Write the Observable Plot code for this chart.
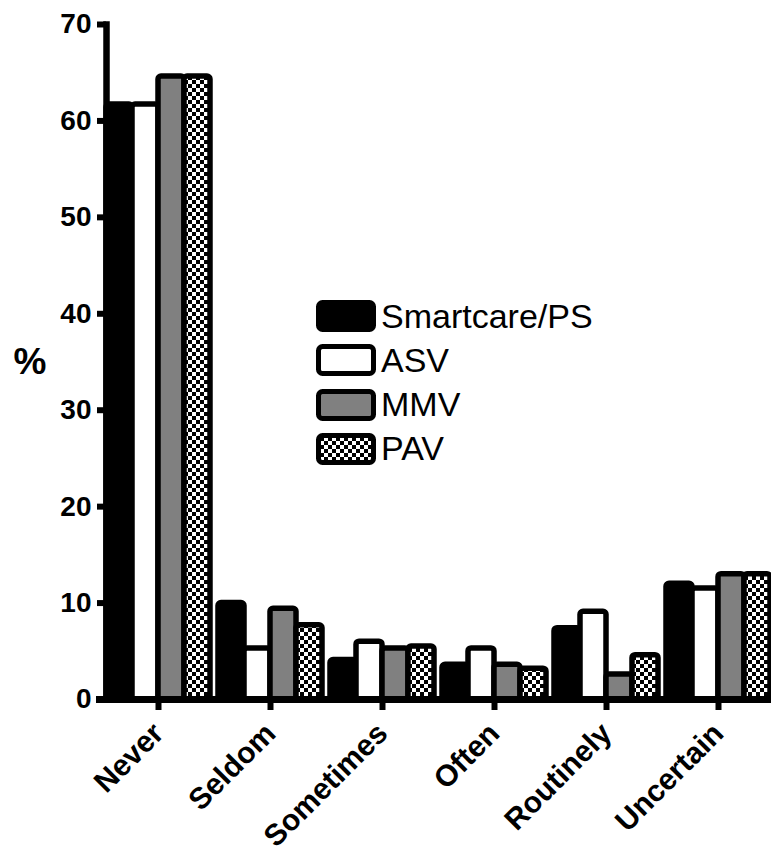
<!DOCTYPE html>
<html><head><meta charset="utf-8">
<script src="https://cdn.jsdelivr.net/npm/d3@7"></script>
<script src="https://cdn.jsdelivr.net/npm/@observablehq/plot@0.6"></script>
<style>
body{margin:0;background:#fff;}
#wrap{position:relative;width:771px;height:853px;}
#legend{position:absolute;left:316px;top:300px;font-family:"Liberation Sans",Arial,sans-serif;font-size:34px;color:#000;}
.row{display:flex;align-items:center;height:32px;margin-bottom:12.3px;}
.row svg{display:block;margin-right:5px;}
</style></head><body>
<svg width="0" height="0" style="position:absolute">
<defs><pattern id="checker" width="8" height="8" patternUnits="userSpaceOnUse">
<rect width="8" height="8" fill="#fff"/><rect width="4" height="4" fill="#000"/><rect x="4" y="4" width="4" height="4" fill="#000"/></pattern></defs></svg>
<div id="wrap"><div id="legend"></div></div>
<script>
const categories = ["Never","Seldom","Sometimes","Often","Routinely","Uncertain"];
const series = ["Smartcare/PS","ASV","MMV","PAV"];
const smartcare = [61.7, 10.0, 4.1, 3.6, 7.4, 12.0];
const asv       = [61.7, 5.3, 6.0, 5.3, 9.1, 11.5];
const mmv       = [64.6, 9.4, 5.3, 3.6, 2.6, 13.0];
const pav       = [64.6, 7.7, 5.5, 3.2, 4.6, 13.0];
const yTicks = [0,10,20,30,40,50,60,70];
const fills = ["#000","#fff","#808080","url(#checker)"];

const values = [smartcare, asv, mmv, pav];
const data = categories.flatMap((c,i)=>series.map((s,j)=>({category:c, series:s, value:values[j][i]})));

const plot = Plot.plot({
  width:771, height:853, marginLeft:106, marginRight:0, marginTop:24, marginBottom:154,
  style:{fontFamily:"'Liberation Sans', Arial, sans-serif", background:"white", color:"black"},
  fx:{domain:categories, paddingInner:0.07, paddingOuter:0, label:null},
  x:{domain:series, padding:0, axis:null},
  y:{domain:[0,70], label:null},
  marks:[
    ...series.map((s,j)=>Plot.barY(data.filter(d=>d.series===s),{fx:"category", x:"series", y:"value", fill:fills[j], stroke:"#000", strokeWidth:5.5, rx:3})),
    Plot.ruleY([0],{stroke:"#000", strokeWidth:7, insetLeft:-10, insetRight:-6}),
    Plot.frame({anchor:"left", facetAnchor:"left", stroke:"#000", strokeWidth:6.5}),
    Plot.axisY({ticks:yTicks, tickSize:9, strokeWidth:6, fontSize:28, fontWeight:"bold", tickPadding:6, label:null}),
    Plot.axisFx({anchor:"bottom", ticks:categories, tickSize:11, strokeWidth:6, fontSize:30, fontWeight:"bold", tickRotate:-45, tickPadding:18, label:null}),
    Plot.text(["%"], {text:d=>d, frameAnchor:"left", dx:-93, fontSize:37, fontWeight:"bold", facetAnchor:"left"})
  ]
});
document.getElementById("wrap").prepend(plot);

const legend = document.getElementById("legend");
series.forEach((s,j)=>{
  const row = document.createElement("div");
  row.className = "row";
  row.innerHTML = `<svg width="60" height="32"><rect x="2.5" y="2.5" width="55" height="27" rx="4" fill="${fills[j]}" stroke="#000" stroke-width="5"/></svg><span>${s}</span>`;
  legend.appendChild(row);
});
</script>
</body></html>
